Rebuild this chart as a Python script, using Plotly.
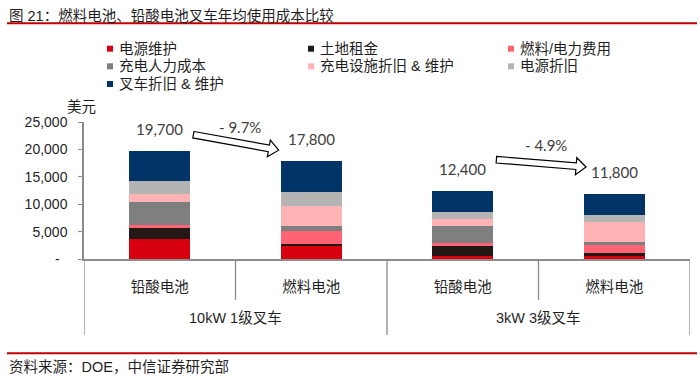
import math
import plotly.graph_objects as go

# ---------------- data ----------------
categories = ["铅酸电池", "燃料电池", "铅酸电池", "燃料电池"]
groups = ["10kW 1级叉车", "3kW 3级叉车"]
series_names = ["电源维护", "土地租金", "燃料/电力费用", "充电人力成本",
                "充电设施折旧 & 维护", "电源折旧", "叉车折旧 & 维护"]
power_maint = [3700, 2300, 550, 600]
land_rent = [1900, 500, 1830, 420]
fuel_power = [550, 2370, 470, 1530]
charging_labor = [4300, 780, 3100, 470]
charging_facility = [1450, 3780, 1350, 3650]
power_depr = [2250, 2550, 1280, 1280]
truck_depr = [5550, 5520, 3820, 3850]
totals = [19700, 17800, 12400, 11800]
total_labels = ["19,700", "17,800", "12,400", "11,800"]
changes = ["- 9.7%", "- 4.9%"]
y_tickvals = [0, 5000, 10000, 15000, 20000, 25000]
y_ticktext = ["-\u00a0\u00a0", "5,000", "10,000", "15,000", "20,000", "25,000"]

series_values = [power_maint, land_rent, fuel_power, charging_labor,
                 charging_facility, power_depr, truck_depr]
colors = ["#D7000F", "#231815", "#FF6374", "#7F7F7F", "#FFB3B5", "#B4B4B4", "#013466"]

# ---------------- layout geometry ----------------
W, H = 700, 377
ML, MR, MT, MB = 84, 10, 122, 118
PW, PH = W - ML - MR, H - MT - MB
YMAX = 25000
XMIN, XMAX = -0.5, 3.5

FONT = "Liberation Sans, Arial, Noto Sans CJK SC, sans-serif"
NUMFONT = "Lato, Liberation Sans, sans-serif"
TXT = "#1f1f1f"
AXC = "#8c8c8c"
RED = "#C00000"

def px_to_paper_x(px):
    return (px - ML) / PW

def py_to_paper_y(py):
    return (H - MB - py) / PH

x_idx = list(range(len(categories)))

fig = go.Figure()
for name, vals, col in zip(series_names, series_values, colors):
    fig.add_trace(go.Bar(x=x_idx, y=vals, name=name, marker_color=col,
                         marker_line_width=0, width=0.4, showlegend=False))

shapes = []
annotations = []

# title + red rules
annotations.append(dict(text="图 21：燃料电池、铅酸电池叉车年均使用成本比较",
                        xref="paper", yref="paper", x=px_to_paper_x(7), y=py_to_paper_y(15.5),
                        xanchor="left", yanchor="middle", showarrow=False,
                        font=dict(family=FONT, size=14.5, color=TXT)))
for yy in (23.3, 353.3):
    shapes.append(dict(type="line", xref="paper", yref="paper",
                       x0=px_to_paper_x(7), x1=px_to_paper_x(697),
                       y0=py_to_paper_y(yy), y1=py_to_paper_y(yy),
                       line=dict(color=RED, width=2)))
annotations.append(dict(text="资料来源：DOE，中信证券研究部",
                        xref="paper", yref="paper", x=px_to_paper_x(7), y=py_to_paper_y(367.3),
                        xanchor="left", yanchor="middle", showarrow=False,
                        font=dict(family=FONT, size=14.5, color=TXT)))

# manual legend (3 columns, row-major)
col_x = [110, 311, 511]
row_y = [48.7, 66.3, 84.0]
for i, (name, col) in enumerate(zip(series_names, colors)):
    r, c = divmod(i, 3)
    cx, cy = col_x[c], row_y[r]
    shapes.append(dict(type="rect", xref="paper", yref="paper",
                       x0=px_to_paper_x(cx - 3), x1=px_to_paper_x(cx + 3),
                       y0=py_to_paper_y(cy + 3), y1=py_to_paper_y(cy - 3),
                       fillcolor=col, line=dict(width=0)))
    annotations.append(dict(text=name, xref="paper", yref="paper",
                            x=px_to_paper_x(cx + 6.5), y=py_to_paper_y(cy),
                            xanchor="left", yanchor="middle", showarrow=False,
                            font=dict(family=FONT, size=14.5, color=TXT)))

# unit label
annotations.append(dict(text="美元", xref="paper", yref="paper",
                        x=px_to_paper_x(81), y=py_to_paper_y(107),
                        xanchor="center", yanchor="middle", showarrow=False,
                        font=dict(family=FONT, size=14.5, color=TXT)))

# totals above bars
for i, (t, lab) in enumerate(zip(totals, total_labels)):
    annotations.append(dict(text=lab, x=i, y=t, xref="x", yref="y", yshift=22.5,
                            xanchor="center", yanchor="middle", showarrow=False,
                            font=dict(family=NUMFONT, size=15, color="#404040")))

# change labels
change_pos = [(0.532, 24015), (2.55, 20860)]
for lab, (cx, cy) in zip(changes, change_pos):
    annotations.append(dict(text=lab, x=cx, y=cy, xref="x", yref="y",
                            xanchor="center", yanchor="middle", showarrow=False,
                            font=dict(family=NUMFONT, size=15, color="#404040")))

# hollow block arrows
sx = PW / (XMAX - XMIN)
sy = PH / YMAX
arrows = [((0.222, 22680), (0.785, 19854)), ((2.222, 18120), (2.814, 16790))]
for (x0, y0), (x1, y1) in arrows:
    X0, Y0, X1, Y1 = x0 * sx, y0 * sy, x1 * sx, y1 * sy
    dx, dy = X1 - X0, Y1 - Y0
    L = math.hypot(dx, dy)
    ux, uy = dx / L, dy / L
    nx, ny = -uy, ux
    w, h, hl = 3.3, 8.5, 10.0
    bx, by = X1 - ux * hl, Y1 - uy * hl
    pts = [(X0 + nx * w, Y0 + ny * w), (bx + nx * w, by + ny * w), (bx + nx * h, by + ny * h),
           (X1, Y1), (bx - nx * h, by - ny * h), (bx - nx * w, by - ny * w), (X0 - nx * w, Y0 - ny * w)]
    d = "M" + " L".join(f"{px / sx:.5f},{py / sy:.3f}" for px, py in pts) + " Z"
    shapes.append(dict(type="path", xref="x", yref="y", path=d,
                       fillcolor="white", line=dict(color="black", width=1.2)))

# category dividers below axis
for xb, long_ in [(-0.5, True), (0.5, False), (1.5, True), (2.5, False), (3.5, True)]:
    shapes.append(dict(type="line", xref="x", yref="paper", ysizemode="pixel", yanchor=0,
                       x0=xb, x1=xb, y0=0, y1=-(76 if long_ else 41),
                       line=dict(color=AXC, width=1.3)))

# group labels
for gi, g in enumerate(groups):
    annotations.append(dict(text=g, xref="x", yref="paper", x=gi * 2 + 0.5, y=py_to_paper_y(318),
                            xanchor="center", yanchor="middle", showarrow=False,
                            font=dict(family=FONT, size=14.5, color=TXT)))

fig.update_layout(
    width=W, height=H, barmode="stack", bargap=0,
    margin=dict(l=ML, r=MR, t=MT, b=MB, pad=0),
    paper_bgcolor="white", plot_bgcolor="white",
    showlegend=False,
    shapes=shapes, annotations=annotations,
    xaxis=dict(range=[XMIN, XMAX], tickvals=x_idx, ticktext=categories,
               showline=True, linecolor=AXC, linewidth=1.5, ticks="",
               showgrid=False, zeroline=False, ticklabelstandoff=14,
               tickfont=dict(family=FONT, size=14.5, color=TXT), fixedrange=True),
    yaxis=dict(range=[0, YMAX], tickvals=y_tickvals, ticktext=y_ticktext,
               showline=True, linecolor=AXC, linewidth=1.5, ticks="outside",
               ticklen=4, tickcolor=AXC, tickwidth=1.3,
               showgrid=False, zeroline=False, ticklabelstandoff=8,
               tickfont=dict(family=FONT, size=14, color=TXT), fixedrange=True),
)

fig.write_html("out.html", config={"displayModeBar": False},
               post_script="document.body.style.margin='0';document.body.style.overflow='hidden';")
